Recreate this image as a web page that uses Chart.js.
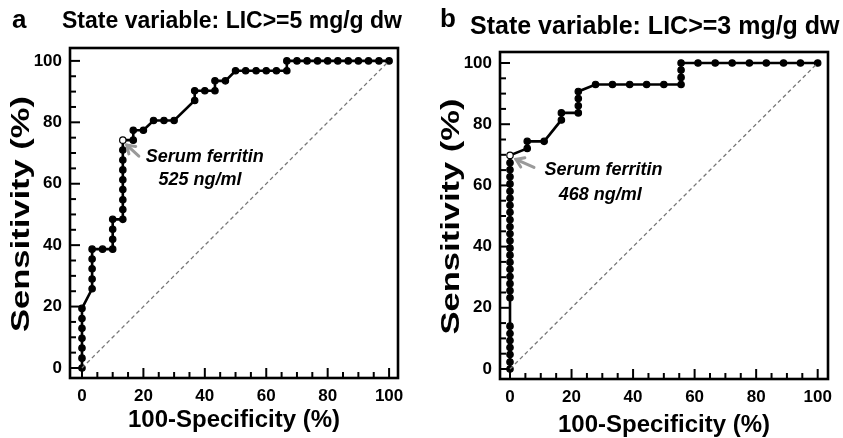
<!DOCTYPE html>
<html>
<head>
<meta charset="utf-8">
<script src="https://cdn.jsdelivr.net/npm/chart.js@4.4.1/dist/chart.umd.min.js"></script>
<style>
  html, body { margin: 0; padding: 0; background: #fff; }
  #wrap { position: relative; width: 843px; height: 438px; overflow: hidden; }
  .panel { position: absolute; top: 0; }
</style>
</head>
<body>
<div id="wrap">
  <div class="panel" style="left:0"><canvas id="chartA" width="421" height="438"></canvas></div>
  <div class="panel" style="left:421px"><canvas id="chartB" width="422" height="438"></canvas></div>
</div>
<script>
// --- data (percent) ---
const tickVals = [0, 20, 40, 60, 80, 100];
const tickLabels = ['0', '20', '40', '60', '80', '100'];
const minorTickVals = [0, 5, 10, 15, 20, 25, 30, 35, 40, 45, 50, 55, 60, 65, 70, 75, 80, 85, 90, 95, 100];

const diagX = [0, 100];
const diagY = [0, 100];

// panel a: LIC >= 5 mg/g dw
const fprA = [
  0, 0, 0, 0, 0, 0, 0,
  3.3, 3.3, 3.3, 3.3, 3.3,
  6.7, 10, 10, 10, 10,
  13.3, 13.3, 13.3, 13.3, 13.3, 13.3, 13.3, 13.3, 13.3,
  16.7, 16.7, 20, 23.3, 26.7, 30, 36.7, 36.7, 40, 43.3, 43.3, 46.7,
  50, 53.3, 56.7, 60, 63.3, 66.7, 66.7,
  70, 73.3, 76.7, 80, 83.3, 86.7, 90, 93.3, 96.7, 100];
const sensA = [
  0, 3.2, 6.5, 9.7, 12.9, 16.1, 19.4,
  25.8, 29.0, 32.3, 35.5, 38.7,
  38.7, 38.7, 41.9, 45.2, 48.4,
  48.4, 51.6, 54.8, 58.1, 61.3, 64.5, 67.7, 71.0, 74.2,
  74.2, 77.4, 77.4, 80.6, 80.6, 80.6, 87.1, 90.3, 90.3, 90.3, 93.5, 93.5,
  96.8, 96.8, 96.8, 96.8, 96.8, 96.8, 100,
  100, 100, 100, 100, 100, 100, 100, 100, 100, 100];
const cutIndexA = 25;   // serum ferritin 525 ng/ml

// panel b: LIC >= 3 mg/g dw
const fprB = [
  0, 0, 0, 0, 0, 0, 0,
  0, 0, 0, 0, 0, 0, 0,
  0, 0, 0, 0, 0, 0, 0,
  0, 0, 0, 0, 0, 0, 0,
  5.6, 5.6, 11.1, 16.7, 16.7, 22.2, 22.2, 22.2, 22.2,
  27.8, 33.3, 38.9, 44.4, 50, 55.6, 55.6, 55.6, 55.6,
  61.1, 66.7, 72.2, 77.8, 83.3, 88.9, 94.4, 100];
const sensB = [
  0, 2.3, 4.7, 7.0, 9.3, 11.6, 14.0,
  23.3, 25.6, 27.9, 30.2, 32.6, 34.9, 37.2,
  39.5, 41.9, 44.2, 46.5, 48.8, 51.2, 53.5,
  55.8, 58.1, 60.5, 62.8, 65.1, 67.4, 69.8,
  72.1, 74.4, 74.4, 81.4, 83.7, 83.7, 86.0, 88.4, 90.7,
  93.0, 93.0, 93.0, 93.0, 93.0, 93.0, 95.3, 97.7, 100,
  100, 100, 100, 100, 100, 100, 100, 100];
const cutIndexB = 27;   // serum ferritin 468 ng/ml

const FONT = "'Liberation Sans', Arial, sans-serif";

function toPoints(xs, ys) {
  return xs.map((v, i) => ({ x: v, y: ys[i] }));
}

// box round the plot area with inward ticks
const framePlugin = {
  id: 'frame',
  beforeDatasetsDraw(chart) {
    const { ctx, chartArea: a, scales: { x, y } } = chart;
    ctx.save();
    ctx.strokeStyle = '#000';
    ctx.lineWidth = 2;
    minorTickVals.forEach(v => {
      const len = tickVals.includes(v) ? 10 : 6;
      const px = x.getPixelForValue(v);
      const py = y.getPixelForValue(v);
      ctx.beginPath(); ctx.moveTo(px, a.bottom); ctx.lineTo(px, a.bottom - len); ctx.stroke();
      ctx.beginPath(); ctx.moveTo(a.left, py); ctx.lineTo(a.left + len, py); ctx.stroke();
    });
    ctx.lineWidth = 2.6;
    ctx.strokeRect(a.left, a.top, a.right - a.left, a.bottom - a.top);
    ctx.restore();
  }
};

// panel letter, titles, cut-off label and arrow
const notesPlugin = {
  id: 'notes',
  afterDraw(chart, args, o) {
    const { ctx, chartArea: a, scales: { x, y } } = chart;
    ctx.save();
    ctx.fillStyle = '#000';
    ctx.textBaseline = 'middle';
    ctx.textAlign = 'left';
    ctx.font = `bold 26px ${FONT}`;
    ctx.fillText(o.letter, o.letterX, o.letterY);
    ctx.font = `bold ${o.titleSize}px ${FONT}`;
    ctx.fillText(o.title, o.titleX, o.titleY);

    // y axis title (tall lettering in the original)
    ctx.save();
    ctx.translate(o.yTitleX, (a.top + a.bottom) / 2 + 1);
    ctx.rotate(-Math.PI / 2);
    ctx.scale(1.38, 1);
    ctx.textAlign = 'center';
    ctx.font = `bold 25px ${FONT}`;
    ctx.fillText('Sensitivity (%)', 0, 0);
    ctx.restore();

    ctx.textAlign = 'center';
    ctx.font = `italic bold 18px ${FONT}`;
    ctx.fillText('Serum ferritin', x.getPixelForValue(o.label1[0]), y.getPixelForValue(o.label1[1]));
    ctx.fillText(o.cutText, x.getPixelForValue(o.label2[0]), y.getPixelForValue(o.label2[1]));

    // arrow towards the open circle
    const cx = x.getPixelForValue(o.cut[0]);
    const cy = y.getPixelForValue(o.cut[1]);
    const hx = cx + o.head[0], hy = cy + o.head[1];
    const tx = cx + o.tail[0], ty = cy + o.tail[1];
    const ang = Math.atan2(hy - ty, hx - tx);
    ctx.strokeStyle = '#9a9a9a';
    ctx.lineWidth = 3;
    ctx.lineCap = 'round';
    ctx.beginPath(); ctx.moveTo(tx, ty); ctx.lineTo(hx, hy); ctx.stroke();
    ctx.beginPath();
    ctx.moveTo(hx - 9 * Math.cos(ang - 0.6), hy - 9 * Math.sin(ang - 0.6));
    ctx.lineTo(hx, hy);
    ctx.lineTo(hx - 9 * Math.cos(ang + 0.6), hy - 9 * Math.sin(ang + 0.6));
    ctx.stroke();
    ctx.restore();
  }
};

function makeChart(id, cfg) {
  const pts = toPoints(cfg.xs, cfg.ys);
  const fills = pts.map((p, i) => i === cfg.cutIndex ? '#fff' : '#000');
  return new Chart(document.getElementById(id), {
    type: 'scatter',
    data: {
      datasets: [
        {
          data: toPoints(diagX, diagY),
          showLine: true,
          borderColor: '#777',
          borderWidth: 1.3,
          borderDash: [4, 3],
          pointRadius: 0
        },
        {
          data: pts,
          showLine: true,
          borderColor: '#000',
          borderWidth: 2.6,
          tension: 0,
          pointRadius: 3.2,
          pointBackgroundColor: fills,
          pointBorderColor: '#000',
          pointBorderWidth: 1.2
        }
      ]
    },
    options: {
      responsive: false,
      animation: false,
      devicePixelRatio: 1,
      layout: { padding: cfg.padding },
      plugins: {
        legend: { display: false },
        tooltip: { enabled: false },
        notes: cfg.notes
      },
      scales: {
        x: {
          type: 'linear',
          min: cfg.xRange[0], max: cfg.xRange[1],
          afterBuildTicks: s => { s.ticks = tickVals.map(v => ({ value: v })); },
          afterFit: s => { s.height = cfg.xAxisHeight; },
          grid: { display: false, drawTicks: false },
          border: { display: false },
          ticks: {
            padding: 8,
            color: '#000',
            font: { family: FONT, size: 17, weight: 'bold' },
            callback: v => tickLabels[tickVals.indexOf(v)]
          },
          title: {
            display: true,
            text: '100-Specificity (%)',
            color: '#000',
            font: { family: FONT, size: 24, weight: 'bold', lineHeight: 1 },
            padding: { top: 0, bottom: cfg.xTitlePad }
          }
        },
        y: {
          type: 'linear',
          min: cfg.yRange[0], max: cfg.yRange[1],
          afterBuildTicks: s => { s.ticks = tickVals.map(v => ({ value: v })); },
          afterFit: s => { s.width = cfg.yAxisWidth; },
          grid: { display: false, drawTicks: false },
          border: { display: false },
          ticks: {
            padding: 8,
            color: '#000',
            font: { family: FONT, size: 17, weight: 'bold' },
            callback: v => tickLabels[tickVals.indexOf(v)]
          }
        }
      }
    },
    plugins: [framePlugin, notesPlugin]
  });
}

makeChart('chartA', {
  xs: fprA, ys: sensA, cutIndex: cutIndexA,
  xRange: [-3.9, 102.9], yRange: [-3.26, 104.2],
  padding: { left: 0, top: 48, right: 23, bottom: 0 },
  xAxisHeight: 60, yAxisWidth: 70, xTitlePad: 6,
  notes: {
    letter: 'a', letterX: 12, letterY: 21,
    title: 'State variable: LIC>=5 mg/g dw', titleSize: 23, titleX: 62, titleY: 22,
    yTitleX: 22,
    cutText: '525 ng/ml', label1: [40, 68.7], label2: [38.4, 61.2],
    cut: [fprA[cutIndexA], sensA[cutIndexA]], head: [4, 5], tail: [16, 16]
  }
});

makeChart('chartB', {
  xs: fprB, ys: sensB, cutIndex: cutIndexB,
  xRange: [-3.25, 103.35], yRange: [-3.27, 103.6],
  padding: { left: 0, top: 52, right: 15, bottom: 0 },
  xAxisHeight: 59, yAxisWidth: 79, xTitlePad: 1,
  notes: {
    letter: 'b', letterX: 19, letterY: 20,
    title: 'State variable: LIC>=3 mg/g dw', titleSize: 25, titleX: 49, titleY: 27,
    yTitleX: 31,
    cutText: '468 ng/ml', label1: [30.4, 65], label2: [29.3, 56.9],
    cut: [fprB[cutIndexB], sensB[cutIndexB]], head: [6, 4], tail: [24, 12]
  }
});
</script>
</body>
</html>
